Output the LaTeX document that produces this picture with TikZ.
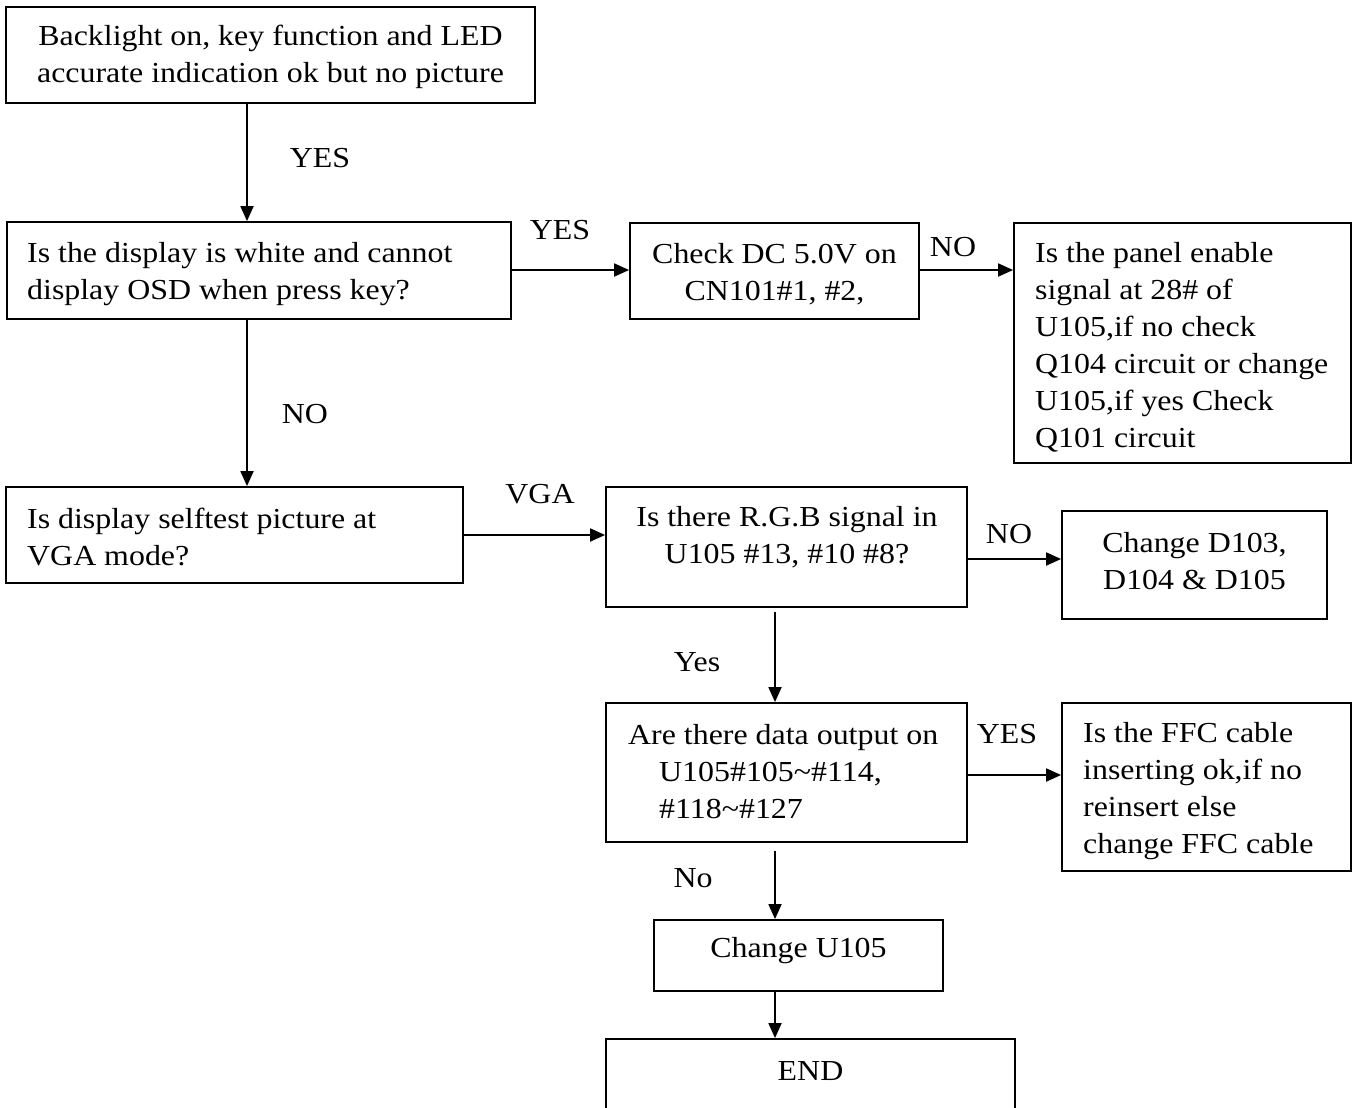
\documentclass[tikz,border=0pt]{standalone}
\usepackage{fontspec}
\setmainfont{Liberation Serif}[FakeStretch=1.1]
\usetikzlibrary{arrows.meta}
\begin{document}
\begin{tikzpicture}[x=1pt,y=-1pt,
  box/.style={draw,line width=1.8pt,inner sep=0pt},
  txt/.style={inner sep=0pt,font=\fontsize{29}{37}\selectfont},
  lbl/.style={inner sep=0pt,font=\fontsize{29}{37}\selectfont},
  arr/.style={line width=1.8pt,-{Triangle[length=15pt,width=13pt]}}]
\useasboundingbox (0,0) rectangle (1358,1108);
% boxes
\node[box,minimum width=529pt,minimum height=96pt] (b1) at (270.5,55) {};
\node[box,minimum width=504pt,minimum height=97pt] (b2) at (259,270.5) {};
\node[box,minimum width=289pt,minimum height=96pt] (b3) at (774.5,271) {};
\node[box,minimum width=337pt,minimum height=240pt] (b4) at (1182.5,343) {};
\node[box,minimum width=457pt,minimum height=96pt] (b5) at (234.5,535) {};
\node[box,minimum width=361pt,minimum height=120pt] (b6) at (786.5,547) {};
\node[box,minimum width=265pt,minimum height=108pt] (b7) at (1194.5,565) {};
\node[box,minimum width=361pt,minimum height=139pt] (b8) at (786.5,772.5) {};
\node[box,minimum width=289pt,minimum height=168pt] (b9) at (1206.5,787) {};
\node[box,minimum width=289pt,minimum height=71pt] (b10) at (798.5,955.5) {};
\node[box,minimum width=409pt,minimum height=102pt] (b11) at (810.5,1090) {};
% texts
\node[txt,align=center] (t1) at (270.5,57) {Backlight on, key function and LED\\accurate indication ok but no picture};
\node[txt,align=left,anchor=west] (t2) at (27,274) {Is the display is white and cannot\\display OSD when press key?};
\node[txt,align=center] (t3) at (774.5,274) {Check DC 5.0V on\\CN101\#1, \#2,};
\node[txt,align=left,anchor=west] (t4) at (1035,347) {Is the panel enable\\signal at 28\# of\\U105,if no check\\Q104 circuit or change\\U105,if yes Check\\Q101 circuit};
\node[txt,align=left,anchor=west] (t5) at (27,537) {Is display selftest picture at\\VGA mode?};
\node[txt,align=center] (t6) at (787,537) {Is there R.G.B signal in\\U105 \#13, \#10 \#8?};
\node[txt,align=center] (t7) at (1194.5,561) {Change D103,\\D104 \& D105};
\node[txt,align=left,anchor=west] (t8) at (628,772) {Are there data output on\\\hspace{31pt}U105\#105\textasciitilde\#114,\\\hspace{31pt}\#118\textasciitilde\#127};
\node[txt,align=left,anchor=west] (t9) at (1083,791) {Is the FFC cable\\inserting ok,if no\\reinsert else\\change FFC cable};
\node[txt] (t10) at (798.5,951) {Change U105};
\node[txt] (t11) at (810.5,1071) {END};
% labels
\node[lbl] (l1) at (320,158) {YES};
\node[lbl] (l2) at (560,230) {YES};
\node[lbl] (l3) at (953,247) {NO};
\node[lbl] (l4) at (305,414) {NO};
\node[lbl] (l5) at (540,494) {VGA};
\node[lbl] (l6) at (1009,534) {NO};
\node[lbl] (l7) at (697,662) {Yes};
\node[lbl] (l8) at (1007,734) {YES};
\node[lbl] (l9) at (693,878) {No};
% connector guides
\coordinate (cx1) at (247,0);
\coordinate (cx2) at (775,0);
\coordinate (ry1) at (0,270);
\coordinate (ry2) at (0,559);
\coordinate (ry3) at (0,775);
% connectors
\draw[arr] (b1.south -| cx1) -- (b2.north -| cx1);
\draw[arr] (b2.south -| cx1) -- (b5.north -| cx1);
\draw[arr] (b2.east |- ry1) -- (b3.west |- ry1);
\draw[arr] (b3.east |- ry1) -- (b4.west |- ry1);
\draw[arr] (b5.east) -- (b6.west |- b5.east);
\draw[arr] (b6.east |- ry2) -- (b7.west |- ry2);
\draw[arr] ([yshift=-4pt]b6.south -| cx2) -- (b8.north -| cx2);
\draw[arr] (b8.east |- ry3) -- (b9.west |- ry3);
\draw[arr] ([yshift=-8pt]b8.south -| cx2) -- (b10.north -| cx2);
\draw[arr] (b10.south -| cx2) -- (b11.north -| cx2);
\end{tikzpicture}
\end{document}
